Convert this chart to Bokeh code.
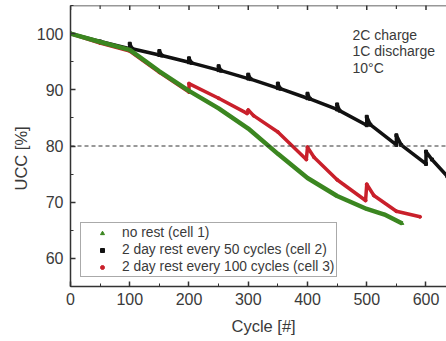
import math
from bokeh.plotting import figure
from bokeh.models import (Range1d, SingleIntervalTicker, Span, Label, Title,
                          Legend, LegendItem)
from bokeh.embed import file_html
from bokeh.resources import INLINE

# ---- data ----
cell1_cycles = [0, 50, 100, 150, 200, 250, 300, 350, 400, 450, 500, 530, 560]
cell1_ucc = [100, 98.5, 97.1, 93.3, 89.8, 86.7, 83.1, 78.6, 74.3, 71.1, 68.8, 67.8, 66.2]

cell2_cycles = [0, 50, 100, 100, 104, 150, 150, 154, 200, 200, 204, 250, 250, 254,
                300, 300, 304, 350, 350, 354, 400, 400, 404, 450, 450, 454, 500, 500,
                506, 550, 550, 558, 600, 600, 610, 636]
cell2_ucc = [100, 98.6, 97.3, 98.2, 97.3, 96.2, 96.9, 96.1, 94.9, 95.6, 94.8, 93.5, 94.2,
             93.4, 92.0, 92.7, 91.9, 90.3, 91.1, 90.2, 88.5, 89.3, 88.4, 86.5, 87.4, 86.3,
             83.7, 85.2, 83.8, 80.2, 81.9, 80.2, 76.8, 79.0, 77.6, 74.6]

cell3_cycles = [0, 50, 100, 150, 200, 200, 250, 298, 300, 309, 350, 398, 400, 411, 450,
                498, 500, 512, 550, 590]
cell3_ucc = [100, 98.3, 96.9, 93.1, 89.6, 91.1, 88.5, 85.8, 86.4, 85.4, 82.5, 77.6, 79.8,
             78.0, 74.0, 70.3, 73.2, 71.2, 68.4, 67.4]

legend_labels = ["no rest (cell 1)", "2 day rest every 50 cycles (cell 2)",
                 "2 day rest every 100 cycles (cell 3)"]
note_lines = ["2C charge", "1C discharge", "10°C"]
x_label = "Cycle [#]"
y_label = "UCC [%]"
top_major_ticks = [0, 100, 200, 300, 400, 500, 600]
top_minor_ticks = [50, 150, 250, 350, 450, 550]

GREEN = "#3b8620"
BLACK = "#111111"
RED = "#c9202b"
AX = "#333333"
TXT = "#3a3a3a"
FONT = "Liberation Sans"
X0, X1, Y0, Y1 = 0, 634.6, 55, 105

p = figure(width=446, height=341, output_backend="svg", toolbar_location=None,
           x_range=Range1d(X0, X1), y_range=Range1d(Y0, Y1),
           min_border_left=70, min_border_right=0, min_border_top=5, min_border_bottom=55)
p.outline_line_color = None
p.grid.visible = False
p.background_fill_color = "white"

# axes
for ax in (p.xaxis[0], p.yaxis[0]):
    ax.major_tick_in = 5
    ax.major_tick_out = 0
    ax.minor_tick_in = 3
    ax.minor_tick_out = 0
    ax.axis_line_color = AX
    ax.axis_line_width = 1.5
    ax.major_tick_line_color = AX
    ax.minor_tick_line_color = AX
    ax.major_tick_line_width = 1.5
    ax.major_label_text_font = FONT
    ax.major_label_text_font_size = "16px"
    ax.major_label_text_color = TXT

p.xaxis[0].ticker = SingleIntervalTicker(interval=100, num_minor_ticks=2)
p.yaxis[0].ticker = SingleIntervalTicker(interval=10, num_minor_ticks=2)
p.xaxis[0].major_label_standoff = 6
p.yaxis[0].major_label_standoff = 7

# axis titles as side titles (offset moves them along the axis)
p.add_layout(Title(text=x_label, align="left", offset=161, text_font=FONT,
                   text_font_size="16.5px", text_font_style="normal",
                   text_color=TXT, standoff=14), "below")
p.add_layout(Title(text=y_label, align="left", offset=96, text_font=FONT,
                   text_font_size="16.5px", text_font_style="normal",
                   text_color=TXT, standoff=8), "left")

# top frame line with inward ticks
p.add_layout(Span(location=Y1, dimension="width", line_color=AX, line_width=1.5))
p.scatter(top_major_ticks, [Y1] * len(top_major_ticks), marker="dash", angle=math.pi / 2,
          size=9, line_color=AX, line_width=1.5)
p.scatter(top_minor_ticks, [Y1] * len(top_minor_ticks), marker="dash", angle=math.pi / 2,
          size=7, line_color=AX, line_width=1.2)

# 80 % threshold
p.add_layout(Span(location=80, dimension="width", line_color=AX, line_width=1,
                  line_dash="4 3"))

# markers (hidden beneath the thick curves, used for the legend)
r2 = p.scatter(cell2_cycles, cell2_ucc, marker="square", size=3,
               fill_color=BLACK, line_color=BLACK)
r3 = p.scatter(cell3_cycles, cell3_ucc, marker="circle", size=3,
               fill_color=RED, line_color=RED)
r1 = p.scatter(cell1_cycles, cell1_ucc, marker="triangle", size=3,
               fill_color=GREEN, line_color=GREEN)

# curves
p.line(cell2_cycles, cell2_ucc, line_color=BLACK, line_width=3.5, line_join="round")
p.line(cell3_cycles, cell3_ucc, line_color=RED, line_width=3.5, line_join="round")
p.line(cell1_cycles, cell1_ucc, line_color=GREEN, line_width=4.5, line_join="round")

legend = Legend(items=[LegendItem(label=legend_labels[0], renderers=[r1]),
                       LegendItem(label=legend_labels[1], renderers=[r2]),
                       LegendItem(label=legend_labels[2], renderers=[r3])],
                location=(10, 9), padding=2, spacing=2, margin=0,
                glyph_width=38, glyph_height=10, label_standoff=1, label_height=15,
                label_text_font=FONT, label_text_font_size="13.8px",
                label_text_color=TXT, border_line_color="#555555",
                border_line_width=1, background_fill_color="white",
                background_fill_alpha=1)
p.add_layout(legend, "center")

# annotation
for i, t in enumerate(note_lines):
    p.add_layout(Label(x=476, y=101.2 - i * 2.95, text=t, text_font=FONT,
                       text_font_size="14px", text_color=TXT,
                       text_baseline="top", text_align="left"))

open("out.html", "w").write(file_html(p, INLINE))
